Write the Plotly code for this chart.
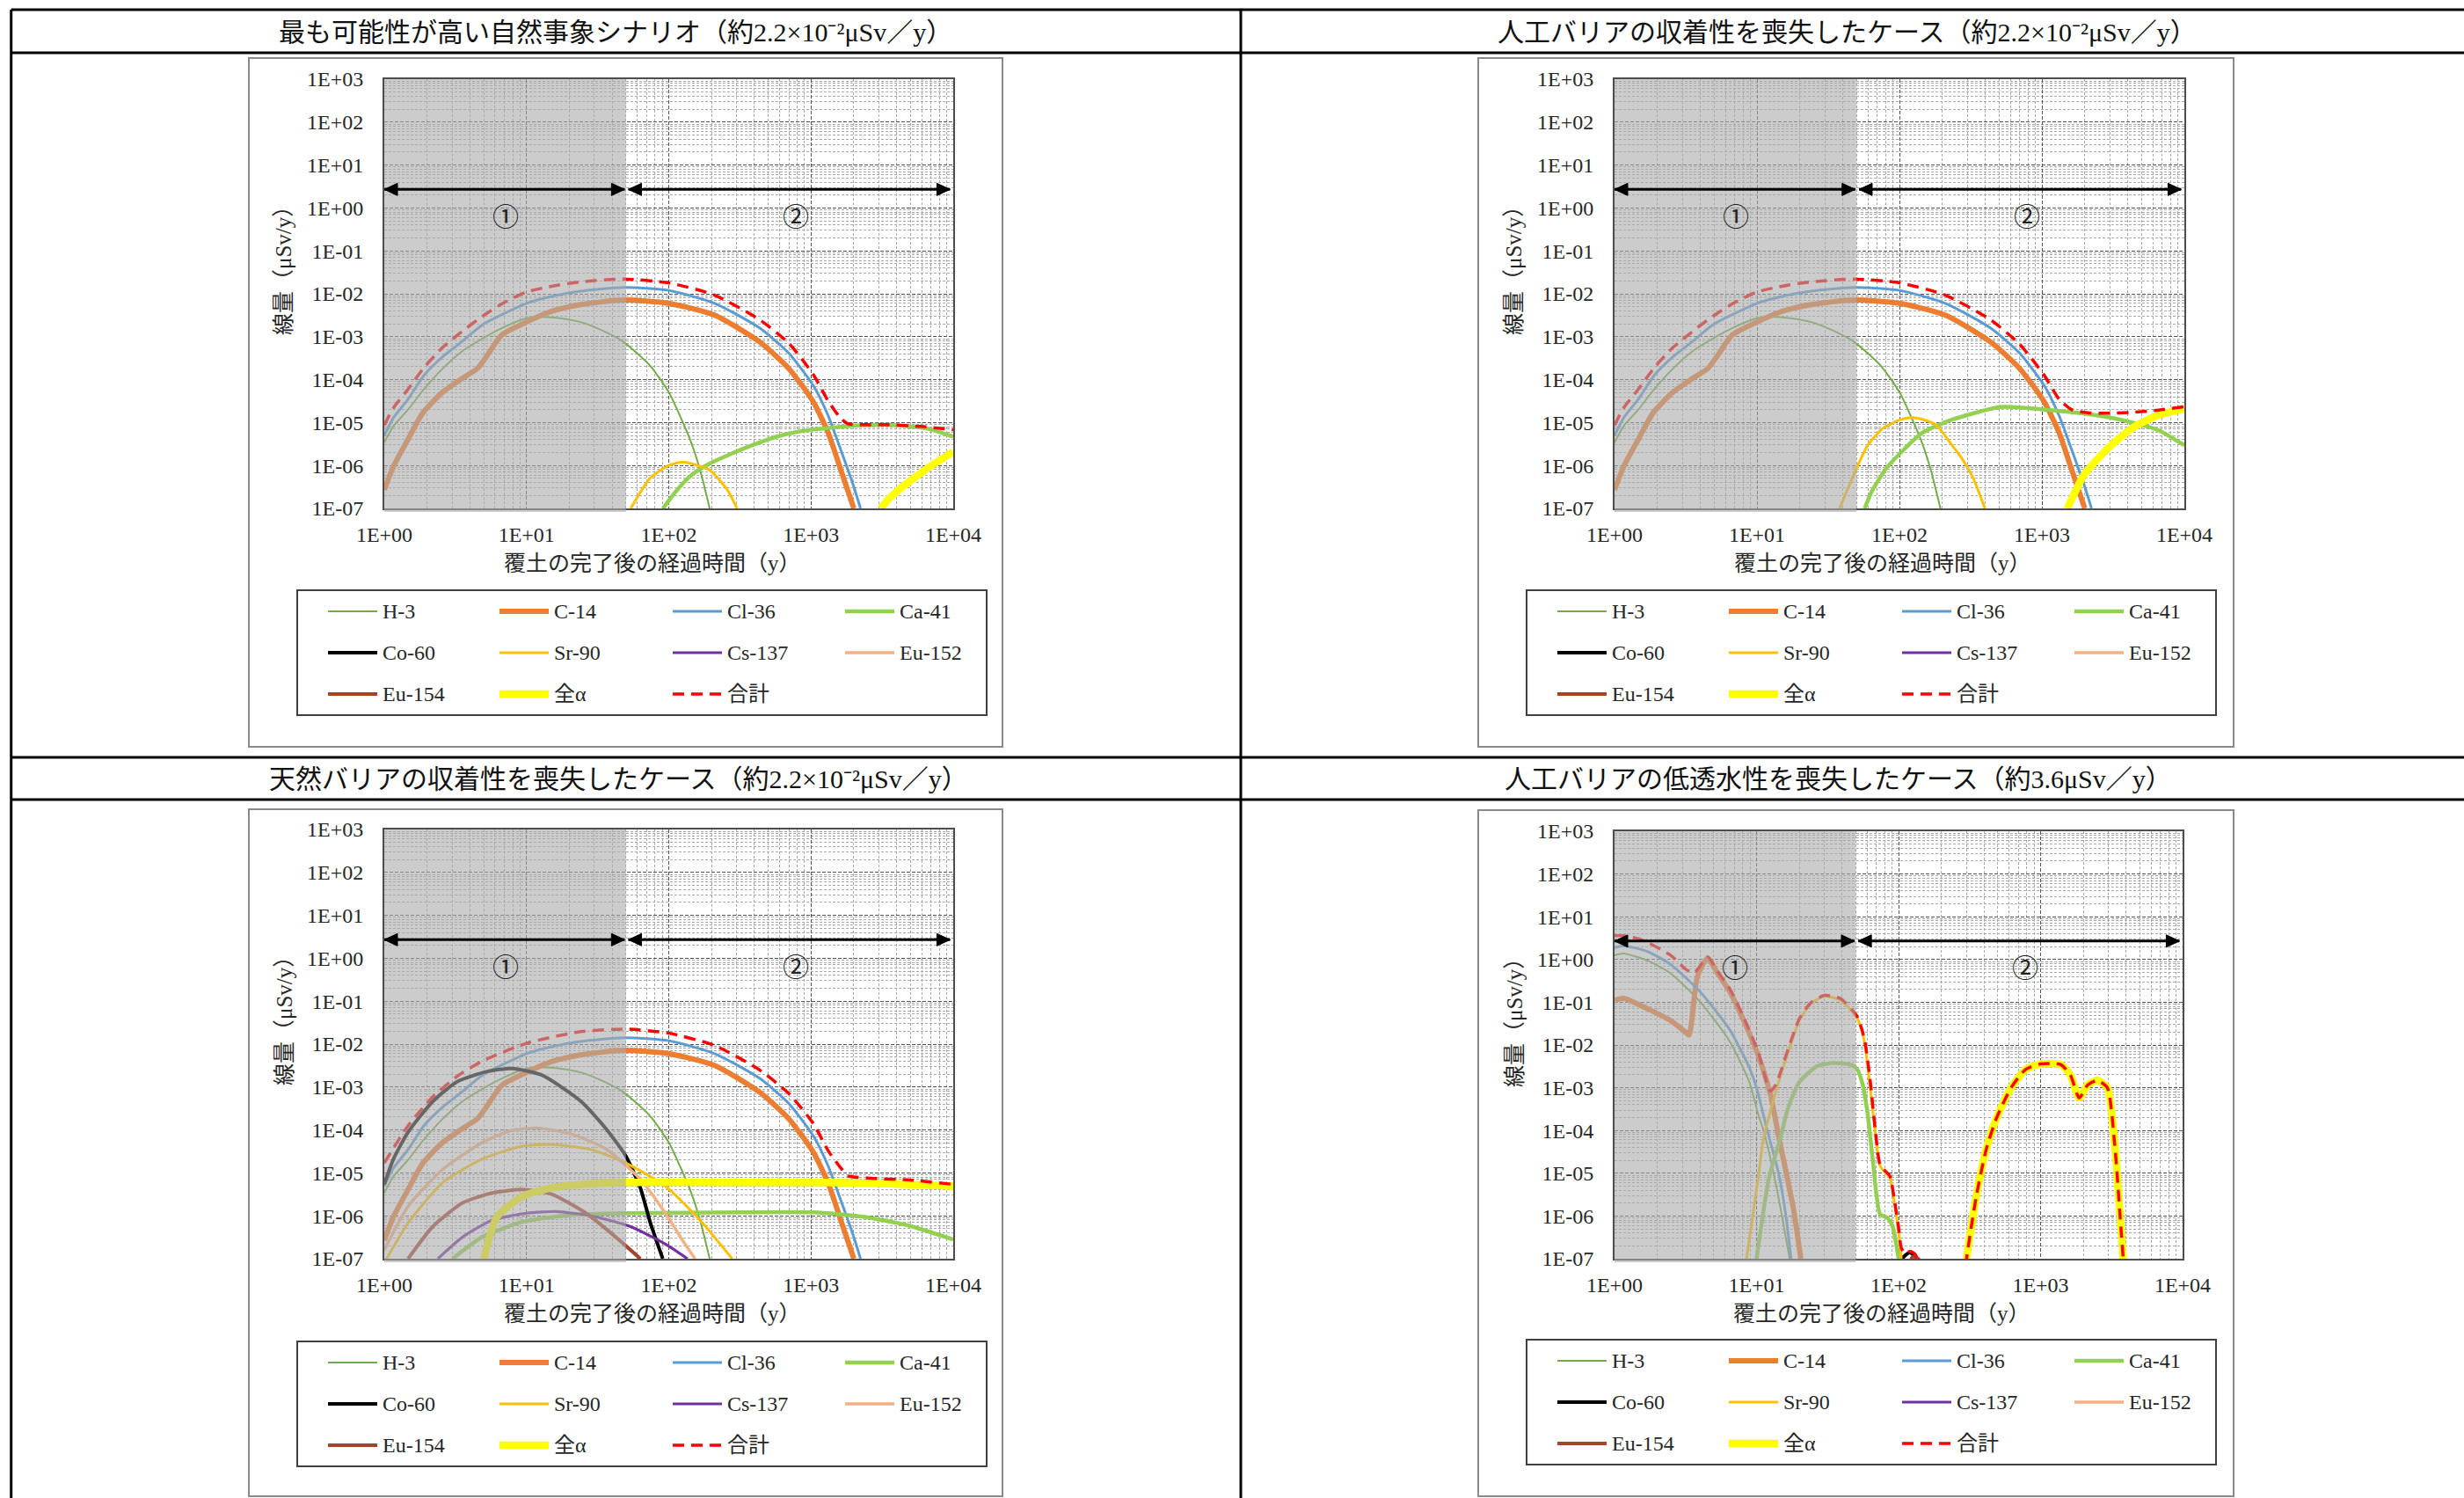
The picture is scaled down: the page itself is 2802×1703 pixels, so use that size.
import math
import plotly.graph_objects as go

W, H = 2802, 1703

# ---------------- data (time in years, dose in μSv/y) ----------------
NAMES = ["H-3", "C-14", "Cl-36", "Ca-41", "Co-60", "Sr-90", "Cs-137", "Eu-152", "Eu-154", "全α", "合計"]
COLORS = ["#70AD47", "#ED7D31", "#5B9BD5", "#92D050", "#000000", "#FFC000",
          "#7030A0", "#F4B183", "#A5432B", "#FFFF00", "#FF0000"]
WIDTHS = [2, 6, 3, 4.5, 4, 3, 3.2, 3.5, 4, 8.5, 3.5]
DASHES = ["solid"] * 10 + ["13px,8px"]

X_TICKS = [1, 10, 100, 1000, 10000]
X_TICK_TEXT = ["1E+00", "1E+01", "1E+02", "1E+03", "1E+04"]
Y_TICKS = [1e-7, 1e-6, 1e-5, 1e-4, 1e-3, 1e-2, 1e-1, 1e0, 1e1, 1e2, 1e3]
Y_TICK_TEXT = ["1E-07", "1E-06", "1E-05", "1E-04", "1E-03", "1E-02",
               "1E-01", "1E+00", "1E+01", "1E+02", "1E+03"]

TITLES = [
    "最も可能性が高い自然事象シナリオ（約2.2×10⁻²μSv／y）",
    "人工バリアの収着性を喪失したケース（約2.2×10⁻²μSv／y）",
    "天然バリアの収着性を喪失したケース（約2.2×10⁻²μSv／y）",
    "人工バリアの低透水性を喪失したケース（約3.6μSv／y）",
]
X_TITLE = "覆土の完了後の経過時間（y）"
Y_TITLE = "線量（μSv/y）"

PHASE_SPLIT = 50      # years, boundary between period ① and ②
ARROW_LEVEL = 2.7
LABEL_LEVEL = 0.7
LABEL1_T = 7.1
LABEL2_T = 780
ARROW1 = (1.0, 49)
ARROW2 = (52, 9500)

# shared curves for panels 1-3
H3_T = [1, 1.16, 1.47, 1.9, 2.57, 3.5, 4.9, 7, 10, 12.8, 17, 24, 34, 48, 74, 100, 141, 166, 194]
H3_D = [3.4e-6, 8.3e-6, 2.0e-5, 6.0e-5, 1.8e-4, 4.5e-4, 9.1e-4, 1.7e-3, 2.7e-3, 2.9e-3, 2.7e-3,
        2.2e-3, 1.4e-3, 7.6e-4, 2.1e-4, 5.1e-5, 4.1e-6, 7.9e-7, 1.0e-7]
C14_T = [1, 1.16, 1.47, 1.87, 2.57, 3.5, 4.5, 5.3, 6.7, 10, 15, 24, 48, 100, 210, 435, 700,
         1040, 1320, 1620, 2000]
C14_D = [2.7e-7, 9.5e-7, 4.1e-6, 1.7e-5, 5.1e-5, 1.05e-4, 1.8e-4, 3.7e-4, 1.1e-3, 2.2e-3, 3.9e-3,
         5.6e-3, 7.2e-3, 6.0e-3, 3.2e-3, 7.6e-4, 1.8e-4, 3.0e-5, 5.8e-6, 7.9e-7, 1.0e-7]
CL36_T = [1, 1.16, 1.47, 1.9, 2.57, 3.5, 4.9, 7, 10, 15, 24, 48, 100, 210, 435, 700, 1040,
          1320, 1620, 2000, 2230]
CL36_D = [5.0e-6, 1.3e-5, 3.5e-5, 1.26e-4, 3.4e-4, 7.6e-4, 1.9e-3, 3.5e-3, 6.0e-3, 8.7e-3, 1.15e-2,
          1.4e-2, 1.2e-2, 6.0e-3, 1.6e-3, 4.1e-4, 7.2e-5, 1.45e-5, 2.3e-6, 3.2e-7, 1.0e-7]

# panel 1: most probable natural-event scenario
P1_CA41_T = [91, 110, 141, 190, 267, 400, 600, 1000, 1560, 2500, 3470, 6600, 10000]
P1_CA41_D = [1.0e-7, 2.3e-7, 5.6e-7, 1.07e-6, 1.8e-6, 3.1e-6, 4.9e-6, 6.8e-6, 7.9e-6, 8.7e-6,
             8.9e-6, 7.2e-6, 4.7e-6]
P1_SR90_T = [54, 74, 100, 125, 160, 194, 258, 302]
P1_SR90_D = [1.0e-7, 5.1e-7, 1.0e-6, 1.2e-6, 1.0e-6, 7.9e-7, 2.7e-7, 1.0e-7]
P1_ALPHA_T = [3090, 3600, 4400, 6600, 10000]
P1_ALPHA_D = [1.0e-7, 1.8e-7, 3.2e-7, 8.7e-7, 2.1e-6]
P1_TOTAL_T = [1, 1.16, 1.47, 1.9, 2.57, 3.5, 4.9, 7, 10, 15, 24, 48, 100, 210, 435, 700, 1040,
              1320, 1620, 1830, 2500, 3470, 6000, 10000]
P1_TOTAL_D = [8.7e-6, 2.2e-5, 6.0e-5, 1.9e-4, 5.6e-4, 1.3e-3, 3.0e-3, 6.3e-3, 1.1e-2, 1.5e-2,
              1.9e-2, 2.2e-2, 1.8e-2, 9.3e-3, 2.5e-3, 7.0e-4, 1.3e-4, 3.2e-5, 1.25e-5, 9.3e-6,
              8.9e-6, 8.9e-6, 8.1e-6, 6.8e-6]

# panel 2: loss of sorption in engineered barrier
P2_CA41_T = [57, 64, 82, 143, 231, 513, 1050, 2340, 4090, 6600, 10000]
P2_CA41_D = [1.0e-7, 2.5e-7, 9.1e-7, 5.6e-6, 1.15e-5, 2.3e-5, 2.0e-5, 1.5e-5, 1.05e-5, 6.6e-6, 2.95e-6]
P2_SR90_T = [38, 51, 60, 76, 100, 122, 150, 182, 230, 271, 330, 398]
P2_SR90_D = [1.0e-7, 1.0e-6, 3.0e-6, 7.2e-6, 1.15e-5, 1.3e-5, 1.15e-5, 8.7e-6, 3.2e-6, 1.55e-6,
             5.0e-7, 1.0e-7]
P2_ALPHA_T = [1510, 1990, 2970, 4430, 6600, 10000]
P2_ALPHA_D = [1.0e-7, 6.3e-7, 2.7e-6, 7.9e-6, 1.5e-5, 2.1e-5]
P2_TOTAL_T = [1, 1.16, 1.47, 1.9, 2.57, 3.5, 4.9, 7, 10, 15, 24, 48, 100, 210, 435, 700, 1040,
              1320, 1620, 2100, 3000, 4500, 6600, 10000]
P2_TOTAL_D = [8.7e-6, 2.2e-5, 6.0e-5, 1.9e-4, 5.6e-4, 1.3e-3, 3.0e-3, 6.3e-3, 1.1e-2, 1.5e-2,
              1.9e-2, 2.2e-2, 1.8e-2, 9.3e-3, 2.5e-3, 6.6e-4, 1.25e-4, 3.5e-5, 2.0e-5, 1.7e-5,
              1.65e-5, 1.75e-5, 1.95e-5, 2.35e-5]

# panel 3: loss of sorption in natural barrier
P3_CO60_T = [1, 1.16, 1.47, 2.19, 3.27, 5.3, 7.9, 12.8, 24.2, 36.2, 49.8, 63.2, 74.3, 90.8]
P3_CO60_D = [5.4e-6, 2.1e-5, 8.9e-5, 4.6e-4, 1.35e-3, 2.3e-3, 2.7e-3, 1.9e-3, 4.6e-4, 1.07e-4,
             2.5e-5, 4.4e-6, 6.8e-7, 1.0e-7]
P3_EU152_T = [1, 1.47, 2.57, 4.88, 7.9, 11.8, 20.6, 36.2, 63.2, 94.6, 130, 153]
P3_EU152_D = [1.6e-7, 1.66e-6, 1.2e-5, 5.1e-5, 9.8e-5, 1.1e-4, 8.1e-5, 3.6e-5, 7.1e-6, 1.15e-6,
              2.2e-7, 1.0e-7]
P3_SR90_T = [1, 1.47, 2.57, 4.88, 9.3, 15, 28.4, 49.8, 94.6, 166, 279]
P3_SR90_D = [8e-8, 6.8e-7, 5.9e-6, 2.1e-5, 4.2e-5, 4.6e-5, 3.5e-5, 1.7e-5, 4.9e-6, 7.9e-7, 1.0e-7]
P3_EU154_T = [1.47, 2.19, 3.55, 5.73, 9.3, 15, 26.2, 42.4, 63.2]
P3_EU154_D = [1.0e-7, 5.6e-7, 2.0e-6, 3.4e-6, 4.1e-6, 3.2e-6, 1.15e-6, 3.2e-7, 1.0e-7]
P3_CS137_T = [2.38, 3.55, 5.73, 10, 16.2, 28.4, 54, 94.6, 135.5]
P3_CS137_D = [1.0e-7, 3.2e-7, 7.9e-7, 1.15e-6, 1.26e-6, 1.0e-6, 5.6e-7, 2.2e-7, 1.0e-7]
P3_CA41_T = [3.02, 4.88, 9.3, 20.6, 49.8, 314, 1045, 2330, 4790, 10000]
P3_CA41_D = [1.0e-7, 3.2e-7, 7.2e-7, 1.05e-6, 1.15e-6, 1.2e-6, 1.2e-6, 9.5e-7, 6.0e-7, 2.8e-7]
P3_ALPHA_T = [5.0, 6.2, 9.3, 15, 28.4, 49.8, 314, 1560, 3470, 10000]
P3_ALPHA_D = [1.0e-7, 9.5e-7, 2.8e-6, 4.5e-6, 5.6e-6, 6.0e-6, 6.0e-6, 5.9e-6, 5.6e-6, 4.9e-6]
P3_TOTAL_T = [1, 1.47, 2.19, 3.27, 4.88, 10.2, 24.2, 49.8, 100, 210, 435, 700, 1040, 1320, 1620,
              1830, 2500, 5000, 10000]
P3_TOTAL_D = [1.7e-5, 1.26e-4, 5.9e-4, 1.8e-3, 4.0e-3, 1.07e-2, 1.95e-2, 2.24e-2, 1.8e-2, 9.3e-3,
              2.5e-3, 7.0e-4, 1.4e-4, 3.3e-5, 1.3e-5, 8.5e-6, 7.6e-6, 6.8e-6, 5.4e-6]

# panel 4: loss of low permeability in engineered barrier
P4_H3_T = [1, 1.16, 1.7, 2.49, 3.98, 6.46, 8.9, 10.3, 11.2, 13.2, 15.1, 17.1]
P4_H3_D = [1.26, 1.38, 0.95, 0.47, 0.105, 0.0123, 1.35e-3, 2.3e-4, 1.0e-4, 1.0e-5, 1.0e-6, 1.0e-7]
P4_C14_T = [1, 1.16, 1.7, 2.49, 3.16, 3.35, 3.83, 4.52, 5.33, 6.46, 8.13, 10.3, 12.5, 14.4, 18.2, 20.5]
P4_C14_D = [0.11, 0.123, 0.071, 0.037, 0.020, 0.017, 0.40, 1.07, 0.47, 0.18, 0.037, 5.6e-3,
            7.1e-4, 6.6e-5, 1.45e-6, 1.0e-7]
P4_CL36_T = [1, 1.16, 1.7, 2.49, 3.98, 6.46, 8.9, 10, 11.9, 14.3, 16.1, 17.5]
P4_CL36_D = [1.9, 2.1, 1.55, 0.76, 0.18, 0.023, 2.95e-3, 1.0e-3, 1.0e-4, 1.0e-5, 1.0e-6, 1.0e-7]
P4_CA41_T = [10, 12.2, 14.7, 16.6, 20, 26.7, 33.9, 45.1, 50.8, 55.6, 60.3, 66.1, 74.1, 83.2, 90.6, 100]
P4_CA41_D = [1.0e-7, 7.4e-6, 6.6e-5, 3.2e-4, 1.35e-3, 3.2e-3, 3.8e-3, 3.5e-3, 2.8e-3, 1.26e-3,
             2.75e-4, 1.8e-5, 1.1e-6, 9.1e-7, 5.8e-7, 1.0e-7]
P4_CO60_T = [100, 106, 120, 135, 145]
P4_CO60_D = [3e-8, 1.0e-7, 1.4e-7, 1.0e-7, 3e-8]
P4_SR90_T = [8.5, 10.4, 11.1, 13.7, 16.6, 20, 24.3, 30.1, 38.9, 47.3, 50.8, 55, 58.2, 63.1, 68.4,
             74, 80.2, 86.9, 94.2, 99.5, 104.5]
P4_SR90_D = [1.0e-7, 1.05e-5, 5.6e-5, 8.3e-4, 6.5e-3, 0.037, 0.095, 0.138, 0.112, 0.060, 0.044,
             0.022, 9.5e-3, 1.0e-3, 1.0e-4, 1.5e-5, 1.05e-5, 7.9e-6, 1.7e-6, 5.0e-7, 1.0e-7]
P4_EU154_T = [112, 125, 138, 150]
P4_EU154_D = [3e-8, 1.1e-7, 1.0e-7, 3e-8]
P4_ALPHA_T = [301, 353, 415, 488, 620, 787, 1000, 1380, 1620, 1870, 2150, 2510, 2950, 3330, 3610, 3820]
P4_ALPHA_D = [1.0e-7, 2.95e-6, 3.7e-5, 1.9e-4, 1.0e-3, 2.7e-3, 3.6e-3, 3.5e-3, 2.0e-3, 5.8e-4,
              1.17e-3, 1.48e-3, 1.0e-3, 4.5e-5, 1.26e-6, 1.0e-7]
P4_TOTAL_T = [1, 1.16, 1.55, 2.49, 3.16, 3.63, 4.52, 5.33, 6.46, 8.13, 10.3, 12.5, 13.7, 16.6, 20,
              24.3, 30.1, 38.9, 47.3, 50.8, 55, 58.2, 63.1, 68.4, 74, 80.2, 86.9, 94.2, 99.5, 104.5,
              112, 120, 130, 140, 160, 280, 301, 353, 415, 488, 620, 787, 1000, 1380, 1620, 1870,
              2150, 2510, 2950, 3330, 3610, 3820]
P4_TOTAL_D = [3.6, 3.6, 2.9, 1.25, 0.6, 0.48, 1.15, 0.52, 0.21, 0.044, 6.6e-3, 8.3e-4, 1.2e-3,
              7.6e-3, 0.041, 0.1, 0.145, 0.123, 0.065, 0.048, 0.024, 0.011, 1.5e-3, 1.1e-4, 1.6e-5,
              1.15e-5, 8.6e-6, 2.0e-6, 6.3e-7, 1.8e-7, 1.3e-7, 1.5e-7, 1.3e-7, 8e-8, 1e-8, 1e-8,
              1.0e-7, 2.95e-6, 3.7e-5, 1.9e-4, 1.0e-3, 2.7e-3, 3.6e-3, 3.5e-3, 2.0e-3, 5.8e-4,
              1.17e-3, 1.48e-3, 1.0e-3, 4.5e-5, 1.26e-6, 1.0e-7]

PANEL_SERIES = [
    [("H-3", H3_T, H3_D), ("C-14", C14_T, C14_D), ("Cl-36", CL36_T, CL36_D),
     ("Ca-41", P1_CA41_T, P1_CA41_D), ("Sr-90", P1_SR90_T, P1_SR90_D),
     ("全α", P1_ALPHA_T, P1_ALPHA_D), ("合計", P1_TOTAL_T, P1_TOTAL_D)],
    [("H-3", H3_T, H3_D), ("C-14", C14_T, C14_D), ("Cl-36", CL36_T, CL36_D),
     ("Ca-41", P2_CA41_T, P2_CA41_D), ("Sr-90", P2_SR90_T, P2_SR90_D),
     ("全α", P2_ALPHA_T, P2_ALPHA_D), ("合計", P2_TOTAL_T, P2_TOTAL_D)],
    [("H-3", H3_T, H3_D), ("C-14", C14_T, C14_D), ("Cl-36", CL36_T, CL36_D),
     ("Ca-41", P3_CA41_T, P3_CA41_D), ("Co-60", P3_CO60_T, P3_CO60_D),
     ("Sr-90", P3_SR90_T, P3_SR90_D), ("Cs-137", P3_CS137_T, P3_CS137_D),
     ("Eu-152", P3_EU152_T, P3_EU152_D), ("Eu-154", P3_EU154_T, P3_EU154_D),
     ("全α", P3_ALPHA_T, P3_ALPHA_D), ("合計", P3_TOTAL_T, P3_TOTAL_D)],
    [("H-3", P4_H3_T, P4_H3_D), ("C-14", P4_C14_T, P4_C14_D), ("Cl-36", P4_CL36_T, P4_CL36_D),
     ("Ca-41", P4_CA41_T, P4_CA41_D), ("Co-60", P4_CO60_T, P4_CO60_D),
     ("Sr-90", P4_SR90_T, P4_SR90_D), ("Eu-154", P4_EU154_T, P4_EU154_D),
     ("全α", P4_ALPHA_T, P4_ALPHA_D), ("合計", P4_TOTAL_T, P4_TOTAL_D)],
]

# ---------------- layout geometry (pixels) ----------------
PANEL_GEOM = [
    dict(plot=(437, 90, 1084, 578), box=(283, 66, 1140, 849), legend=(338, 671, 1122, 813), head=(700, 36)),
    dict(plot=(1836, 90, 2484, 578), box=(1681, 66, 2540, 849), legend=(1736, 671, 2520, 813), head=(2100, 36)),
    dict(plot=(437, 943, 1084, 1431), box=(283, 920, 1140, 1701), legend=(338, 1525, 1122, 1667), head=(703, 885)),
    dict(plot=(1836, 945, 2482, 1431), box=(1681, 921, 2540, 1701), legend=(1736, 1523, 2520, 1665), head=(2090, 885)),
]
TABLE_HLINES = [11, 60, 861, 909]
TABLE_VLINES = [12.7, 1411]
LEGEND_COLS = [35, 230, 427, 623]
LEGEND_ROWS = [24, 71, 118]
LEGEND_LINE = 56
ARROW_HEAD_LEN = 15
ARROW_HEAD_HALF = 7

FONT = "Liberation Serif, Noto Sans CJK JP"
TXT = "#262626"


def fx(x):
    return x / W


def fy(y):
    return 1 - y / H


fig = go.Figure()
shapes = []
annotations = []

for yv in TABLE_HLINES:
    shapes.append(dict(type="line", xref="paper", yref="paper", x0=fx(TABLE_VLINES[0]), x1=1.0,
                       y0=fy(yv), y1=fy(yv), line=dict(color="black", width=3)))
for xv in TABLE_VLINES:
    shapes.append(dict(type="line", xref="paper", yref="paper", x0=fx(xv), x1=fx(xv),
                       y0=fy(TABLE_HLINES[0]), y1=0, line=dict(color="black", width=3)))

sfx = ["", "2", "3", "4"]
x_minor = [k * 10 ** e for e in range(0, 4) for k in range(2, 10)]
y_minor = [k * 10.0 ** e for e in range(-7, 3) for k in range(2, 10)]

for i, geom in enumerate(PANEL_GEOM):
    xa, ya = "x" + sfx[i], "y" + sfx[i]
    l, t, r, b = geom["plot"]
    # traces
    for name, T, D in sorted(PANEL_SERIES[i], key=lambda s: NAMES.index(s[0])):
        k = NAMES.index(name)
        fig.add_trace(go.Scatter(
            x=T, y=D, mode="lines", name=name, showlegend=False, hoverinfo="skip",
            line=dict(color=COLORS[k], width=WIDTHS[k], dash=DASHES[k], shape="spline", smoothing=0.6),
            xaxis=xa, yaxis=ya))
    axis_common = dict(
        type="log", showgrid=True, gridcolor="#555555", gridwidth=1, griddash="4px,2px",
        showline=True, linecolor="#4d4d4d", linewidth=2, mirror=True, ticks="", zeroline=False,
        tickfont=dict(family="Liberation Serif", size=24, color=TXT), automargin=False,
        fixedrange=True, tickmode="array")
    fig.layout["xaxis" + sfx[i]] = dict(
        axis_common, domain=[fx(l), fx(r)], range=[0, 4], anchor=ya,
        tickvals=X_TICKS, ticktext=X_TICK_TEXT, ticklabelstandoff=7,
        minor=dict(tickmode="array", tickvals=x_minor, showgrid=True, gridcolor="#aaaaaa",
                   gridwidth=1, griddash="3px,2px", ticks=""))
    fig.layout["yaxis" + sfx[i]] = dict(
        axis_common, domain=[fy(b), fy(t)], range=[-7, 3], anchor=xa,
        tickvals=Y_TICKS, ticktext=Y_TICK_TEXT, ticklabelstandoff=17,
        minor=dict(tickmode="array", tickvals=y_minor, showgrid=True, gridcolor="#aaaaaa",
                   gridwidth=1, griddash="3px,2px", ticks=""))

    # chart frame box
    bl, bt, br, bb = geom["box"]
    shapes.append(dict(type="rect", xref="paper", yref="paper", x0=fx(bl), x1=fx(br),
                       y0=fy(bb), y1=fy(bt), line=dict(color="#8a8a8a", width=2), layer="below"))
    # shaded period ①
    shapes.append(dict(type="rect", xref=xa, yref=ya + " domain", x0=1, x1=PHASE_SPLIT,
                       y0=-0.008, y1=1, fillcolor="rgba(170,170,170,0.6)", line=dict(width=0),
                       layer="above"))
    # double-headed arrows for periods ① and ②
    for (a0, a1) in (ARROW1, ARROW2):
        shapes.append(dict(type="line", xref=xa, yref=ya, x0=a0, x1=a1, y0=ARROW_LEVEL,
                           y1=ARROW_LEVEL, line=dict(color="black", width=3), layer="above"))
        for anchor, sgn in ((a1, -1), (a0, 1)):
            path = "M0,0 L{},{} L{},{} Z".format(sgn * ARROW_HEAD_LEN, ARROW_HEAD_HALF,
                                                  sgn * ARROW_HEAD_LEN, -ARROW_HEAD_HALF)
            shapes.append(dict(type="path", xref=xa, yref=ya, xsizemode="pixel", ysizemode="pixel",
                               xanchor=anchor, yanchor=ARROW_LEVEL, path=path,
                               fillcolor="black", line=dict(color="black", width=1), layer="above"))
    for lab, tx in (("①", LABEL1_T), ("②", LABEL2_T)):
        annotations.append(dict(xref=xa, yref=ya, x=math.log10(tx), y=math.log10(LABEL_LEVEL),
                                text=lab, showarrow=False,
                                font=dict(family="Noto Sans CJK JP", size=30, color="#222")))
    # axis titles
    annotations.append(dict(xref="paper", yref="paper", x=fx((l + r) / 2 - 19), y=fy(b + 62),
                            text=X_TITLE, showarrow=False, xanchor="center", yanchor="middle",
                            font=dict(family=FONT, size=25, color=TXT)))
    annotations.append(dict(xref="paper", yref="paper", x=fx(l - 114), y=fy(t + 212),
                            text=Y_TITLE, showarrow=False, textangle=-90, xanchor="center",
                            yanchor="middle", font=dict(family=FONT, size=25, color=TXT)))
    # header
    hx, hy = geom["head"]
    annotations.append(dict(xref="paper", yref="paper", x=fx(hx), y=fy(hy), text=TITLES[i],
                            showarrow=False, xanchor="center", yanchor="middle",
                            font=dict(family=FONT, size=30, color="#111")))
    # legend box + entries
    ll, lt, lr, lb = geom["legend"]
    shapes.append(dict(type="rect", xref="paper", yref="paper", x0=fx(ll), x1=fx(lr),
                       y0=fy(lb), y1=fy(lt), line=dict(color="#404040", width=2), layer="below"))
    for k, name in enumerate(NAMES):
        cx = ll + LEGEND_COLS[k % 4]
        cy = lt + LEGEND_ROWS[k // 4]
        shapes.append(dict(type="line", xref="paper", yref="paper", x0=fx(cx), x1=fx(cx + LEGEND_LINE),
                           y0=fy(cy), y1=fy(cy),
                           line=dict(color=COLORS[k], width=WIDTHS[k], dash=DASHES[k])))
        annotations.append(dict(xref="paper", yref="paper", x=fx(cx + LEGEND_LINE + 4), y=fy(cy),
                                text=name, showarrow=False, xanchor="left", yanchor="middle",
                                font=dict(family=FONT, size=24, color=TXT)))

fig.update_layout(
    width=W, height=H, autosize=False, margin=dict(l=0, r=0, t=0, b=0, pad=0),
    paper_bgcolor="white", plot_bgcolor="white", showlegend=False,
    shapes=shapes, annotations=annotations,
)

fig.write_html("out.html", config={"displayModeBar": False},
               post_script="document.body.style.margin='0px';document.body.style.overflow='hidden';")
